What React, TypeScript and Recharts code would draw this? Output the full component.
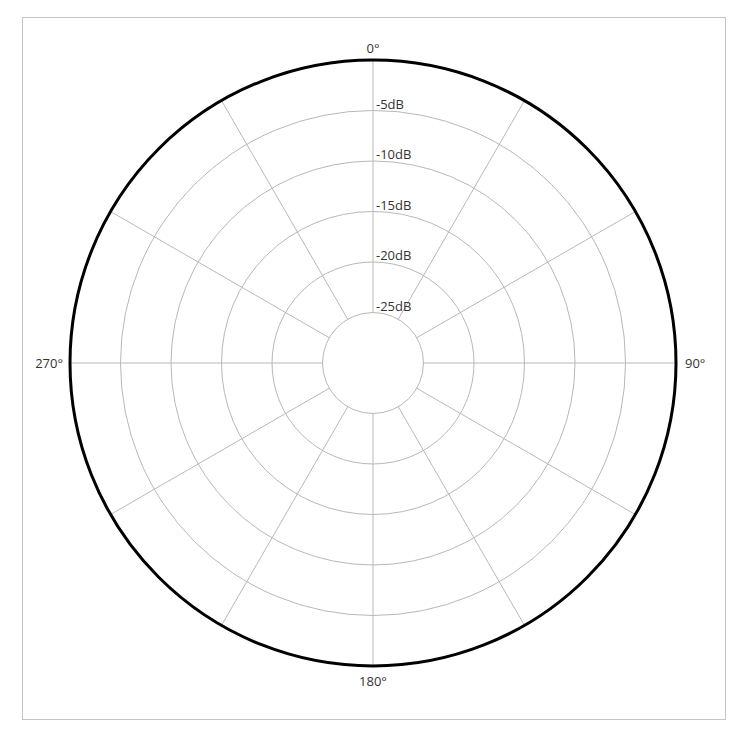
import React from 'react';
import { RadarChart, PolarGrid, PolarAngleAxis, PolarRadiusAxis, Radar } from 'recharts';

const angles = [0, 30, 60, 90, 120, 150, 180, 210, 240, 270, 300, 330];
const labeledAngles = [0, 90, 180, 270];
const levelTicks = [-25, -20, -15, -10, -5, 0];
const levelLabels = ['-25dB', '-20dB', '-15dB', '-10dB', '-5dB', ''];
// no response pattern is plotted in the reference: the series is empty
const response: (number | null)[] = [null, null, null, null, null, null, null, null, null, null, null, null];

const data = angles.map((a, i) => ({ angle: a, response: response[i] }));

const FONT = '"Open Sans", "Noto Sans", sans-serif';
const TEXT = '#333333';

const AngleTick = (props: any) => {
  const { x, y, payload } = props;
  const v = Number(payload.value);
  if (!labeledAngles.includes(v)) return <g />;
  let tx = x;
  let ty = y;
  let anchor: 'start' | 'middle' | 'end' = 'middle';
  if (v === 0) {
    ty = y + 1;
  } else if (v === 180) {
    ty = y + 12;
  } else if (v === 90) {
    tx = x + 1;
    ty = y + 4.5;
    anchor = 'start';
  } else {
    tx = x + 1;
    ty = y + 4.5;
    anchor = 'end';
  }
  return (
    <text x={tx} y={ty} textAnchor={anchor} fill={TEXT} fontSize={13} fontFamily={FONT}>
      {`${v}°`}
    </text>
  );
};

const LevelTick = (props: any) => {
  const { x, y, payload } = props;
  const idx = levelTicks.indexOf(Number(payload.value));
  const label = idx >= 0 ? levelLabels[idx] : '';
  if (!label) return <g />;
  return (
    <text x={x + 3} y={y - 2} textAnchor="start" fill={TEXT} fontSize={13} fontFamily={FONT}>
      {label}
    </text>
  );
};

export default function App() {
  return (
    <div style={{ position: 'fixed', left: 0, top: 0, width: 750, height: 747, background: '#fff' }}>
      <div
        style={{
          position: 'absolute',
          left: 22,
          top: 17,
          width: 702,
          height: 701,
          border: '1.5px solid #c4c4c4',
        }}
      />
      <div style={{ position: 'absolute', left: 0, top: 0 }}>
        <RadarChart
          width={750}
          height={747}
          data={data}
          cx={373}
          cy={363}
          innerRadius={50.5}
          outerRadius={303}
          startAngle={90}
          endAngle={-270}
          margin={{ top: 0, right: 0, bottom: 0, left: 0 }}
        >
          <PolarGrid gridType="circle" stroke="#b8b8b8" strokeWidth={1} />
          <PolarAngleAxis
            dataKey="angle"
            axisLineType="circle"
            axisLine={{ stroke: '#000', strokeWidth: 3 }}
            tickLine={false}
            tickSize={8}
            tick={<AngleTick />}
          />
          <PolarRadiusAxis
            angle={90}
            type="number"
            domain={[-25, 0]}
            ticks={levelTicks}
            allowDataOverflow
            axisLine={false}
            tickLine={false}
            tick={<LevelTick />}
          />
          <Radar
            dataKey="response"
            stroke="none"
            fill="none"
            dot={false}
            isAnimationActive={false}
          />
        </RadarChart>
      </div>
    </div>
  );
}
